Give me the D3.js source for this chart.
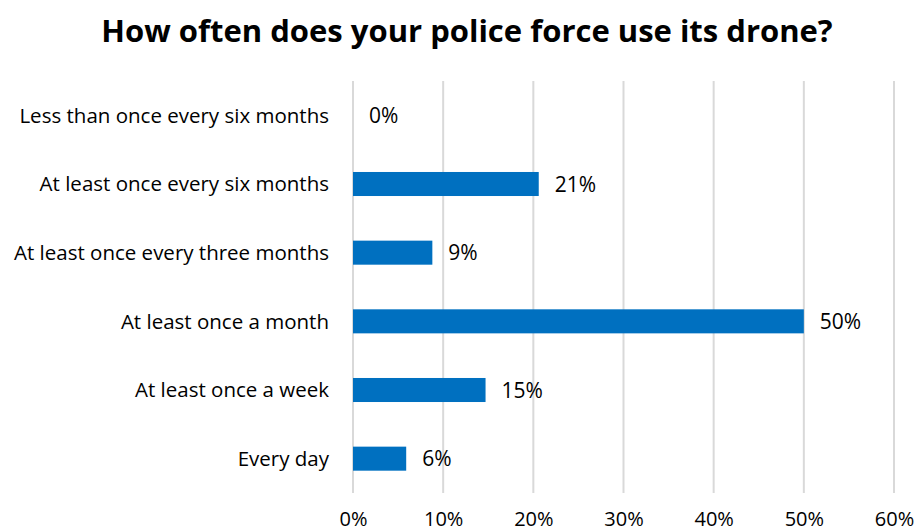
<!DOCTYPE html>
<html><head><meta charset="utf-8">
<script src="https://cdn.jsdelivr.net/npm/d3@7"></script>
<style>body{margin:0;background:#fff}svg{display:block}</style>
</head><body>
<script>
const title = "How often does your police force use its drone?";
const categories = ["Less than once every six months","At least once every six months","At least once every three months","At least once a month","At least once a week","Every day"];
const values = [0, 20.6, 8.8, 50, 14.7, 5.9];
const valueLabels = ["0%","21%","9%","50%","15%","6%"];
const ticks = [0,10,20,30,40,50,60];
const tickLabels = ["0%","10%","20%","30%","40%","50%","60%"];

const W = 919, H = 532;
const font = "'Open Sans', sans-serif";
const svg = d3.select("body").append("svg").attr("width", W).attr("height", H);
const m = {left:353, right:25, top:81, bottom:39};
const x = d3.scaleLinear().domain([0,60]).range([m.left, 894]);
const y = d3.scaleBand().domain(categories).range([m.top, H - m.bottom]).paddingInner(0.65).paddingOuter(0.325);

svg.append("text").attr("x", 467).attr("y", 42).attr("text-anchor","middle")
  .style("font-family", font).style("font-weight","bold").style("font-size","31px").attr("fill","#000").text(title);

svg.append("g").selectAll("line").data(ticks).join("line")
  .attr("x1", d=>x(d)).attr("x2", d=>x(d)).attr("y1", m.top).attr("y2", H - m.bottom)
  .attr("stroke","#d9d9d9").attr("stroke-width",2);

const xAxis = d3.axisBottom(x).tickValues(ticks).tickFormat((d,i)=>tickLabels[i]).tickSize(0).tickPadding(0);
const gx = svg.append("g").attr("transform", `translate(0,${H - 6})`).call(xAxis);
gx.select(".domain").remove();
gx.selectAll("text").attr("dy", 0).style("font-family", font).style("font-size","20px").attr("fill","#000");

svg.append("g").selectAll("rect").data(values).join("rect")
  .attr("x", x(0)).attr("y", (d,i)=>y(categories[i]))
  .attr("width", d=>x(d)-x(0)).attr("height", y.bandwidth()).attr("fill","#0070C0");

svg.append("g").selectAll("text").data(values).join("text")
  .attr("x", d=>x(d)+16).attr("y", (d,i)=>y(categories[i]) + y.bandwidth()/2).attr("dy","0.36em")
  .style("font-family", font).style("font-size","21px").attr("fill","#000").text((d,i)=>valueLabels[i]);

const yAxis = d3.axisLeft(y).tickSize(0).tickPadding(0);
const gy = svg.append("g").attr("transform", `translate(${m.left - 24},0)`).call(yAxis);
gy.select(".domain").remove();
gy.selectAll("text").attr("dy","0.36em").style("font-family", font).style("font-size","20.5px").attr("fill","#000");
</script>
</body></html>
